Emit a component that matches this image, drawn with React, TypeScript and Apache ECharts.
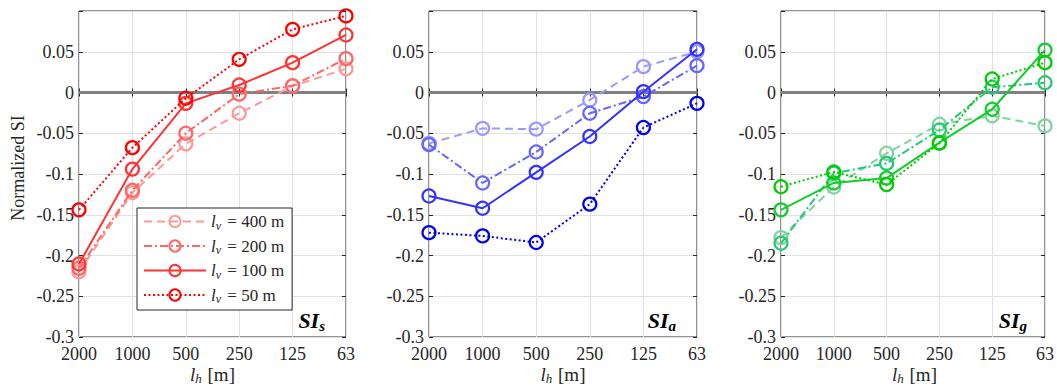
import React, { useEffect, useRef } from 'react';
import * as echarts from 'echarts';

const categories = ['2000', '1000', '500', '250', '125', '63'];
const lvValues = ['400', '200', '100', '50'];

// SI_s (left panel)
const siS400 = [-0.220, -0.123, -0.063, -0.0255, 0.008, 0.029];
const siS200 = [-0.2157, -0.120, -0.050, -0.002, 0.0083, 0.0415];
const siS100 = [-0.2104, -0.094, -0.0133, 0.0092, 0.0366, 0.0706];
const siS50 = [-0.144, -0.0677, -0.0071, 0.0407, 0.0775, 0.094];

// SI_a (middle panel)
const siA400 = [-0.0624, -0.044, -0.045, -0.0092, 0.0317, 0.050];
const siA200 = [-0.064, -0.111, -0.073, -0.0255, -0.005, 0.033];
const siA100 = [-0.127, -0.142, -0.098, -0.054, 0.001, 0.053];
const siA50 = [-0.172, -0.176, -0.184, -0.137, -0.043, -0.0133];

// SI_g (right panel)
const siG400 = [-0.178, -0.116, -0.0746, -0.039, -0.0286, -0.041];
const siG200 = [-0.185, -0.099, -0.087, -0.046, 0.0064, 0.012];
const siG100 = [-0.144, -0.111, -0.105, -0.0616, -0.0206, 0.052];
const siG50 = [-0.1156, -0.0975, -0.113, -0.0623, 0.0166, 0.0366];

const redColors = ['#FF9999', '#FF6666', '#FF3333', '#FF0000'];
const blueColors = ['#9999FF', '#6666FF', '#3333FF', '#0000F0'];
const greenColors = ['#80D4A0', '#26C873', '#14CC2E', '#00CC00'];

const FONT = 'Liberation Serif';
const INK = '#262626';

const dashTypes: any[] = [[8, 5], [8, 3, 2, 3], 'solid', [2, 2.5]];

const gridsPos = [
  { left: 79, top: 11, width: 267, height: 326 },
  { left: 429, top: 11, width: 268, height: 326 },
  { left: 781, top: 11, width: 267, height: 326 },
];

export default function App() {
  const ref = useRef<HTMLDivElement>(null);
  useEffect(() => {
    if (!ref.current) return;
    const chart = echarts.init(ref.current, undefined, { renderer: 'svg' });

    const panels = [
      { data: [siS400, siS200, siS100, siS50], colors: redColors, key: 's' },
      { data: [siA400, siA200, siA100, siA50], colors: blueColors, key: 'a' },
      { data: [siG400, siG200, siG100, siG50], colors: greenColors, key: 'g' },
    ];

    const xAxis: any[] = [];
    const yAxis: any[] = [];
    const grid: any[] = [];
    const series: any[] = [];
    const graphic: any[] = [];

    panels.forEach((p, gi) => {
      const g = gridsPos[gi];
      grid.push({
        ...g,
        show: true,
        borderColor: INK,
        borderWidth: 1,
        backgroundColor: '#ffffff',
        containLabel: false,
      });
      xAxis.push({
        type: 'category',
        gridIndex: gi,
        data: categories,
        boundaryGap: false,
        position: 'bottom',
        axisLine: { show: false },
        axisTick: { show: true, inside: true, length: 4, lineStyle: { color: INK } },
        axisLabel: { fontFamily: FONT, fontSize: 18, color: INK, margin: 8 },
        splitLine: { show: true, lineStyle: { color: '#e2e2e2', width: 1 } },
      });
      xAxis.push({
        type: 'category',
        gridIndex: gi,
        data: categories,
        boundaryGap: false,
        position: 'top',
        axisLine: { show: false },
        axisTick: { show: true, inside: true, length: 4, lineStyle: { color: INK } },
        axisLabel: { show: false },
        splitLine: { show: false },
      });
      yAxis.push({
        type: 'value',
        gridIndex: gi,
        min: -0.3,
        max: 0.1,
        interval: 0.05,
        position: 'left',
        axisLine: { show: false },
        axisTick: { show: true, inside: true, length: 4, lineStyle: { color: INK } },
        axisLabel: {
          fontFamily: FONT,
          fontSize: 18,
          color: INK,
          margin: 5,
          formatter: (v: number) => (v > 0.09 ? '' : String(Math.round(v * 100) / 100)),
        },
        splitLine: { show: true, lineStyle: { color: '#e2e2e2', width: 1 } },
      });
      yAxis.push({
        type: 'value',
        gridIndex: gi,
        min: -0.3,
        max: 0.1,
        interval: 0.05,
        position: 'right',
        axisLine: { show: false },
        axisTick: { show: true, inside: true, length: 4, lineStyle: { color: INK } },
        axisLabel: { show: false },
        splitLine: { show: false },
      });

      p.data.forEach((d, si) => {
        const color = p.colors[si];
        series.push({
          type: 'line',
          name: `${p.key}${lvValues[si]}`,
          xAxisIndex: gi * 2,
          yAxisIndex: gi * 2,
          data: d,
          symbol: 'circle',
          symbolSize: 13,
          showSymbol: true,
          z: 3 + si,
          lineStyle: { color, width: 2, type: dashTypes[si] },
          itemStyle: { color: 'rgba(255,255,255,0)', borderColor: color, borderWidth: 2.2 },
          emphasis: { disabled: true },
          markLine:
            si === 0
              ? {
                  silent: true,
                  symbol: 'none',
                  label: { show: false },
                  lineStyle: { color: '#808080', width: 3, type: 'solid' },
                  data: [{ yAxis: 0 }],
                  z: 2,
                }
              : undefined,
        });
      });

      const right = g.left + g.width;
      graphic.push({
        type: 'text',
        x: right - 21,
        y: 333,
        z: 100,
        style: {
          text: `{b|SI}{s|${p.key}}`,
          textAlign: 'right',
          textVerticalAlign: 'bottom',
          fill: '#000',
          rich: {
            b: { fontFamily: FONT, fontSize: 22, fontWeight: 'bold', fontStyle: 'italic', fill: '#000' },
            s: { fontFamily: FONT, fontSize: 15, fontWeight: 'bold', fontStyle: 'italic', fill: '#000', padding: [10, 0, 0, 0] },
          },
        },
      });
      graphic.push({
        type: 'text',
        x: g.left + g.width / 2,
        y: 374,
        z: 100,
        style: {
          text: '{i|l}{s|h}{n| [m]}',
          textAlign: 'center',
          textVerticalAlign: 'middle',
          fill: INK,
          fontFamily: FONT,
          fontSize: 18,
          rich: {
            i: { fontFamily: FONT, fontSize: 19, fontStyle: 'italic', fill: INK },
            s: { fontFamily: FONT, fontSize: 13, fontStyle: 'italic', fill: INK, padding: [9, 1, 0, 0] },
            n: { fontFamily: FONT, fontSize: 19, fill: INK },
          },
        },
      });
    });

    graphic.push({
      type: 'text',
      x: 18,
      y: 168,
      rotation: Math.PI / 2,
      style: {
        text: 'Normalized SI',
        fontFamily: FONT,
        fontSize: 18,
        fill: INK,
        textAlign: 'center',
        textVerticalAlign: 'middle',
      },
    });

    const legendNames = lvValues.map((v) => `s${v}`);

    chart.setOption({
      animation: false,
      backgroundColor: '#ffffff',
      textStyle: { fontFamily: FONT },
      grid,
      xAxis,
      yAxis,
      series,
      graphic,
      legend: {
        data: legendNames,
        orient: 'vertical',
        left: 137,
        top: 208,
        itemWidth: 62,
        itemHeight: 14,
        itemGap: 6,
        padding: [5, 8, 5, 6],
        backgroundColor: '#ffffff',
        borderColor: INK,
        borderWidth: 1,
        borderRadius: 0,
        selectedMode: false,
        formatter: (name: string) => `{i|l}{s|v}{n| = ${name.slice(1)} m}`,
        textStyle: {
          fontFamily: FONT,
          fontSize: 17,
          color: INK,
          rich: {
            i: { fontFamily: FONT, fontSize: 17, fontStyle: 'italic', color: INK },
            s: { fontFamily: FONT, fontSize: 12, fontStyle: 'italic', color: INK, padding: [8, 2, 0, 0] },
            n: { fontFamily: FONT, fontSize: 17, color: INK },
          },
        },
      },
    });

    return () => chart.dispose();
  }, []);

  return (
    <div
      ref={ref}
      style={{ position: 'fixed', left: 0, top: 0, width: 1057, height: 387, background: '#fff' }}
    />
  );
}
